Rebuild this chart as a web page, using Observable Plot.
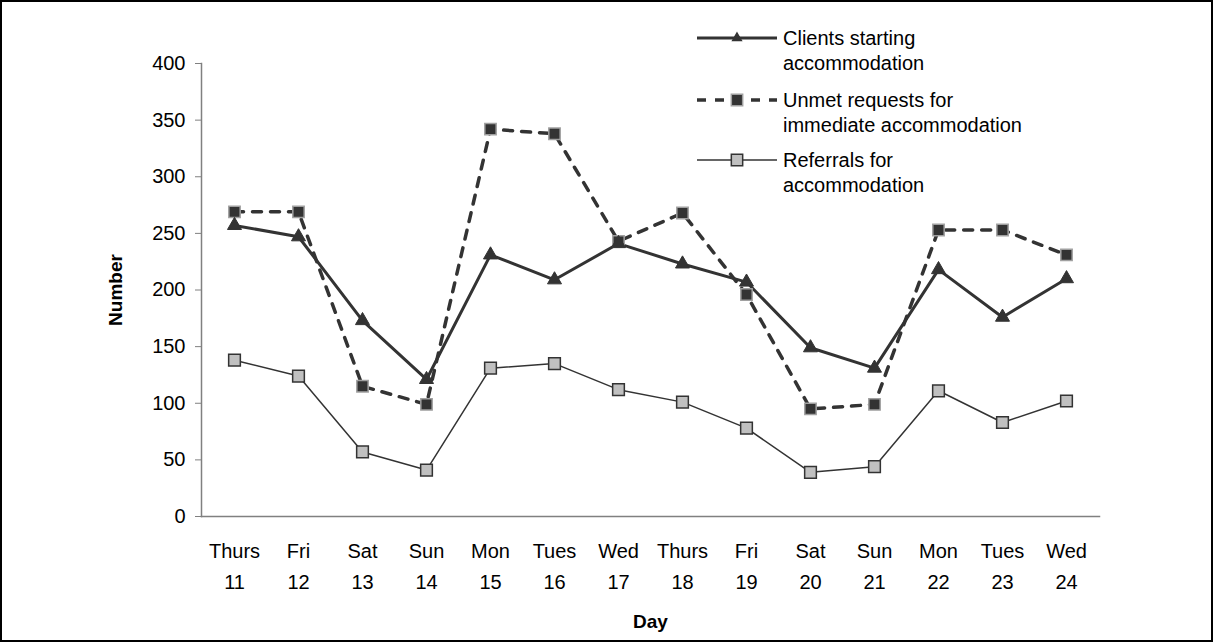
<!DOCTYPE html>
<html>
<head>
<meta charset="utf-8">
<script src="https://cdn.jsdelivr.net/npm/d3@7"></script>
<script src="https://cdn.jsdelivr.net/npm/@observablehq/plot@0.6"></script>
<style>
  body { margin: 0; background: #fff; }
  #wrap { position: relative; width: 1213px; height: 642px; overflow: hidden; }
  #border { position: absolute; left: 0; top: 0; width: 1209px; height: 638px; border: 2px solid #000; box-sizing: content-box; pointer-events: none; }
  g[aria-label="y-axis label"] text, g[aria-label="x-axis label"] text { font-weight: bold; font-size: 19px; }
  #legend { position: absolute; left: 0; top: 0; }
</style>
</head>
<body>
<div id="wrap"><div id="border"></div></div>
<script>
const dayNames = ["Thurs","Fri","Sat","Sun","Mon","Tues","Wed","Thurs","Fri","Sat","Sun","Mon","Tues","Wed"];
const dayDates = [11,12,13,14,15,16,17,18,19,20,21,22,23,24];
const clients   = [257,247,173,121,231,209,241,223,207,149,131,218,176,210];
const unmet     = [269,269,115, 99,342,338,243,268,196, 95, 99,253,253,231];
const referrals = [138,124, 57, 41,131,135,112,101, 78, 39, 44,111, 83,102];
const yTicks = [0,50,100,150,200,250,300,350,400];
const seriesNames = ["Clients starting\naccommodation","Unmet requests for\nimmediate accommodation","Referrals for\naccommodation"];

const keys = dayNames.map((d,i) => d + "\n" + dayDates[i]);
const rows = keys.map((k,i) => ({day:k, clients:clients[i], unmet:unmet[i], referrals:referrals[i]}));

const dark = "#333333";
const chart = Plot.plot({
  width: 1213, height: 642,
  marginLeft: 201, marginRight: 114, marginTop: 63, marginBottom: 126,
  style: {fontFamily: "'Liberation Sans', Arial, sans-serif", fontSize: "20px", color: "#000", background: "#fff"},
  x: {type: "point", domain: keys, padding: 0.5},
  y: {domain: [0, 400]},
  marks: [
    Plot.axisY({ticks: yTicks, tickSize: 6, tickPadding: 10, stroke: "#808080", label: "Number", labelAnchor: "center", labelArrow: false, labelOffset: 93}),
    Plot.axisX({tickSize: 0, tickPadding: 19, lineHeight: 1.55, label: "Day", labelAnchor: "center", labelArrow: false, labelOffset: 111}),
    Plot.frame({anchor: "left", stroke: "#808080", strokeWidth: 1.5}),
    Plot.frame({anchor: "bottom", stroke: "#808080", strokeWidth: 1.5}),
    Plot.line(rows, {x: "day", y: "referrals", stroke: dark, strokeWidth: 1.5}),
    Plot.line(rows, {x: "day", y: "unmet", stroke: dark, strokeWidth: 3.5, strokeDasharray: "9,9"}),
    Plot.line(rows, {x: "day", y: "clients", stroke: dark, strokeWidth: 3}),
    Plot.dot(rows, {x: "day", y: "referrals", symbol: "square", r: 6.6, fill: "#c0c0c0", stroke: dark, strokeWidth: 1.5}),
    Plot.dot(rows, {x: "day", y: "unmet", symbol: "square", r: 6.4, fill: dark, stroke: "#a0a0a0", strokeWidth: 1.5}),
    Plot.dot(rows, {x: "day", y: "clients", symbol: "triangle", r: 5.2, fill: dark, stroke: dark, strokeWidth: 1})
  ]
});
document.getElementById("wrap").prepend(chart);

// Legend
const lg = d3.select("#wrap").append("svg").attr("id","legend").attr("width",1213).attr("height",642)
  .style("font-family","'Liberation Sans', Arial, sans-serif").style("font-size","20px");
const legendItems = [
  {name: seriesNames[0], y: 38, sw: 3, dash: null, sym: "triangle", fill: dark, stroke: dark},
  {name: seriesNames[1], y: 100, sw: 3.5, dash: "9,9", sym: "square", fill: dark, stroke: "#a0a0a0"},
  {name: seriesNames[2], y: 160, sw: 1.5, dash: null, sym: "square", fill: "#c0c0c0", stroke: dark}
];
legendItems.forEach(it => {
  const g = lg.append("g");
  g.append("line").attr("x1",697).attr("x2",777).attr("y1",it.y).attr("y2",it.y)
    .attr("stroke",dark).attr("stroke-width",it.sw).attr("stroke-dasharray",it.dash);
  const r = it.sym === "triangle" ? 3.2 : 6.4;
  const sym = d3.symbol(it.sym === "triangle" ? d3.symbolTriangle : d3.symbolSquare, Math.PI*r*r)();
  g.append("path").attr("d",sym).attr("transform",`translate(737,${it.y})`)
    .attr("fill",it.fill).attr("stroke",it.stroke).attr("stroke-width",1.5);
  it.name.split("\n").forEach((t,j) => {
    g.append("text").attr("x",783).attr("y",it.y + j*25).attr("dy","0.35em").text(t);
  });
});
</script>
</body>
</html>
